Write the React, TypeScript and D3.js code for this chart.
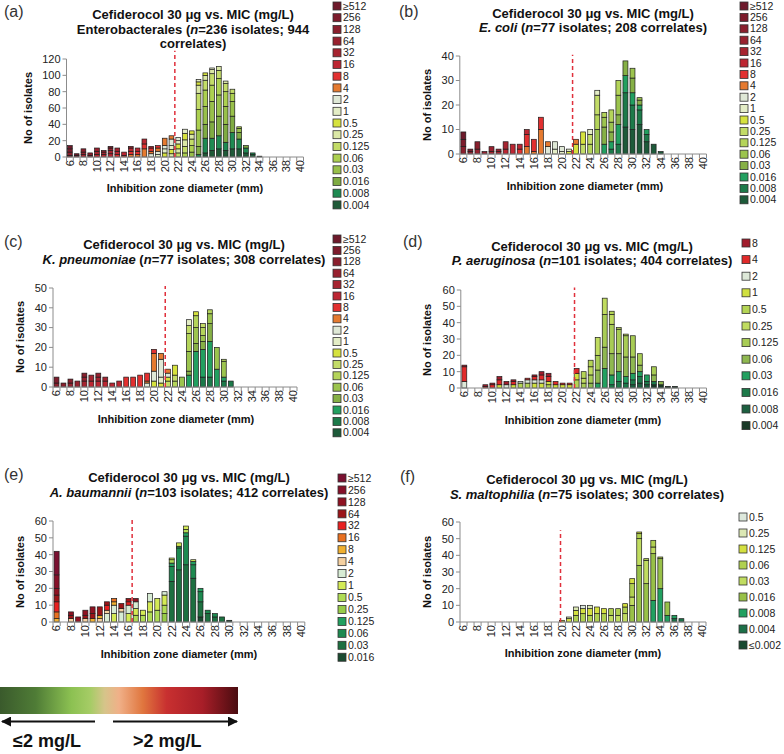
import React from "react";
import * as d3 from "d3";

type Seg = [string, number];
type Bar = [number, Seg[]];
type Run = [string, boolean];

const ZONES = [6, 7, 8, 9, 10, 11, 12, 13, 14, 15, 16, 17, 18, 19, 20, 21, 22, 23, 24, 25, 26, 27, 28, 29, 30, 31, 32, 33, 34, 35, 36, 37, 38, 39, 40];
const ZONE_TICKS = [6, 8, 10, 12, 14, 16, 18, 20, 22, 24, 26, 28, 30, 32, 34, 36, 38, 40];

const MIC_ABC = ["≥512", "256", "128", "64", "32", "16", "8", "4", "2", "1", "0.5", "0.25", "0.125", "0.06", "0.03", "0.016", "0.008", "0.004"];
const COL_A = ["#6e1a2b", "#7d1c2c", "#8a1f2d", "#98212f", "#a62430", "#bc2632", "#e23030", "#e57a30", "#dfe8d6", "#e4edc6", "#d6e23e", "#dbe8a6", "#c3dc68", "#acd050", "#98c04a", "#7fab42", "#1e8a52", "#1f5a38"];
const COL_BC = ["#6e1a2b", "#7d1c2c", "#8a1f2d", "#98212f", "#a62430", "#bc2632", "#e23030", "#e57a30", "#dfe8d6", "#e4edc6", "#d6e23e", "#c3dc68", "#b4d45a", "#9cc44e", "#86b046", "#22a060", "#1d7a4a", "#1d5a3a"];
const MIC_D = ["8", "4", "2", "1", "0.5", "0.25", "0.125", "0.06", "0.03", "0.016", "0.008", "0.004"];
const COL_D = ["#a01c2c", "#e02a2a", "#dde8d8", "#d0e040", "#b4d455", "#c0dc60", "#a8cc55", "#8fb850", "#22a060", "#1d7a4a", "#1d6040", "#1a3a28"];
const MIC_E = ["≥512", "256", "128", "64", "32", "16", "8", "4", "2", "1", "0.5", "0.25", "0.125", "0.06", "0.03", "0.016"];
const COL_E = ["#7a1030", "#861028", "#8f1222", "#9c1418", "#e82020", "#e87020", "#f0b030", "#f5d0a0", "#d8ecd4", "#d4ea55", "#b0dc55", "#98cc48", "#22a060", "#1d8a50", "#1d7040", "#1a4a30"];
const MIC_F = ["0.5", "0.25", "0.125", "0.06", "0.03", "0.016", "0.008", "0.004", "≤0.002"];
const COL_F = ["#dde8dc", "#dce8b4", "#d4e040", "#b0d050", "#c0dc60", "#98c048", "#22a060", "#1d7048", "#1a4a30"];

const BARS_A: Bar[] = [
  [6, [["64", 2], ["128", 4], ["256", 4], ["≥512", 4]]],
  [7, [["256", 2], ["≥512", 2]]],
  [8, [["32", 3], ["64", 3], ["128", 4]]],
  [9, [["64", 2], ["128", 3]]],
  [10, [["16", 3], ["32", 4], ["64", 4]]],
  [11, [["16", 3], ["32", 3], ["64", 2]]],
  [12, [["16", 4], ["32", 4], ["64", 3], ["128", 2]]],
  [13, [["8", 3], ["16", 4], ["32", 4]]],
  [14, [["8", 2], ["16", 4]]],
  [15, [["4", 3], ["8", 4], ["16", 4], ["32", 2]]],
  [16, [["4", 3], ["8", 4], ["16", 4]]],
  [17, [["4", 10], ["8", 6], ["16", 6]]],
  [18, [["2", 4], ["4", 3], ["8", 4], ["16", 2]]],
  [19, [["1", 3], ["2", 4], ["4", 4], ["8", 3]]],
  [20, [["0.5", 5], ["1", 5], ["2", 4], ["4", 9]]],
  [21, [["0.25", 4], ["0.5", 5], ["1", 5], ["2", 8], ["4", 4]]],
  [22, [["0.125", 5], ["0.25", 5], ["0.5", 6], ["1", 4], ["2", 4]]],
  [23, [["0.06", 5], ["0.125", 8], ["0.25", 8], ["0.5", 8], ["1", 5]]],
  [24, [["0.03", 6], ["0.06", 8], ["0.125", 8], ["0.25", 6], ["0.5", 4]]],
  [25, [["0.008", 3], ["0.016", 10], ["0.03", 20], ["0.06", 25], ["0.125", 20], ["0.25", 10], ["0.5", 4], ["1", 3]]],
  [26, [["0.004", 5], ["0.008", 18], ["0.016", 17], ["0.03", 22], ["0.06", 20], ["0.125", 12], ["0.25", 6], ["0.5", 3]]],
  [27, [["0.004", 8], ["0.008", 15], ["0.016", 20], ["0.03", 25], ["0.06", 20], ["0.125", 14], ["0.25", 5], ["1", 2]]],
  [28, [["0.004", 10], ["0.008", 16], ["0.016", 24], ["0.03", 26], ["0.06", 20], ["0.125", 10], ["0.25", 5]]],
  [29, [["0.004", 8], ["0.008", 10], ["0.016", 22], ["0.03", 22], ["0.06", 18], ["0.125", 10], ["0.25", 3]]],
  [30, [["0.004", 10], ["0.008", 20], ["0.016", 20], ["0.03", 18], ["0.06", 10], ["0.125", 5]]],
  [31, [["0.004", 10], ["0.008", 12], ["0.016", 8], ["0.03", 5], ["0.06", 2]]],
  [32, [["0.004", 5], ["0.008", 6], ["0.016", 3]]],
  [33, [["0.004", 3], ["0.008", 2]]],
  [34, [["0.004", 1]]],
];

const BARS_B: Bar[] = [
  [6, [["128", 3], ["256", 3], ["≥512", 3]]],
  [7, [["128", 1], ["256", 1]]],
  [8, [["64", 2], ["128", 3]]],
  [9, [["64", 1]]],
  [10, [["32", 1], ["64", 2]]],
  [11, [["32", 1], ["64", 1]]],
  [12, [["16", 2], ["32", 3]]],
  [13, [["16", 4]]],
  [14, [["8", 2], ["16", 2]]],
  [15, [["4", 3], ["8", 5], ["16", 2]]],
  [16, [["4", 1], ["8", 5]]],
  [17, [["4", 10], ["8", 5]]],
  [18, [["2", 3], ["4", 2]]],
  [19, [["1", 2], ["2", 3]]],
  [20, [["1", 1], ["2", 2]]],
  [21, [["0.5", 1], ["1", 1]]],
  [22, [["0.5", 4], ["4", 2]]],
  [23, [["0.25", 4], ["0.5", 5]]],
  [24, [["0.125", 4], ["0.25", 4], ["1", 2]]],
  [25, [["0.06", 10], ["0.125", 6], ["0.25", 8], ["1", 2]]],
  [26, [["0.016", 4], ["0.03", 7], ["0.06", 4], ["0.125", 2]]],
  [27, [["0.008", 2], ["0.016", 3], ["0.03", 4], ["0.06", 4], ["0.125", 5]]],
  [28, [["0.008", 4], ["0.016", 8], ["0.03", 4], ["0.06", 8], ["0.125", 6]]],
  [29, [["0.004", 11], ["0.008", 14], ["0.016", 7], ["0.03", 6]]],
  [30, [["0.004", 10], ["0.008", 10], ["0.016", 5], ["0.03", 6], ["0.06", 4]]],
  [31, [["0.004", 12], ["0.008", 6], ["0.016", 2], ["0.03", 2], ["0.06", 1]]],
  [32, [["0.004", 5], ["0.008", 3], ["0.016", 2]]],
  [33, [["0.004", 4]]],
  [34, [["0.004", 1]]],
];

const BARS_C: Bar[] = [
  [6, [["128", 2], ["256", 3]]],
  [7, [["128", 2]]],
  [8, [["64", 2], ["128", 2]]],
  [9, [["64", 3]]],
  [10, [["32", 3], ["64", 2], ["128", 2]]],
  [11, [["16", 3], ["32", 3]]],
  [12, [["16", 3], ["32", 2], ["64", 2]]],
  [13, [["16", 3], ["32", 2]]],
  [14, [["16", 2]]],
  [15, [["16", 3]]],
  [16, [["8", 5]]],
  [17, [["8", 5]]],
  [18, [["8", 6]]],
  [19, [["2", 2], ["4", 1], ["8", 4]]],
  [20, [["0.5", 3], ["2", 5], ["4", 9], ["8", 2]]],
  [21, [["0.5", 2], ["1", 3], ["2", 9], ["4", 3]]],
  [22, [["0.25", 3], ["0.5", 2], ["2", 2], ["4", 2]]],
  [23, [["0.125", 3], ["0.25", 3], ["0.5", 5]]],
  [24, [["0.06", 5]]],
  [25, [["0.016", 6], ["0.03", 2], ["0.06", 10], ["0.125", 9], ["0.25", 4], ["1", 3]]],
  [26, [["0.016", 18], ["0.03", 4], ["0.06", 8], ["0.125", 6], ["0.5", 2]]],
  [27, [["0.008", 5], ["0.016", 14], ["0.03", 4], ["0.06", 3], ["0.125", 4], ["0.25", 2]]],
  [28, [["0.008", 5], ["0.016", 18], ["0.03", 9], ["0.06", 5], ["0.125", 2]]],
  [29, [["0.016", 9], ["0.06", 11]]],
  [30, [["0.008", 3], ["0.016", 2], ["0.06", 8], ["0.125", 1]]],
  [31, [["0.008", 3]]],
];

const BARS_D: Bar[] = [
  [6, [["2", 4], ["4", 9], ["8", 1]]],
  [9, [["4", 1], ["8", 1]]],
  [10, [["4", 2], ["8", 1]]],
  [11, [["1", 2], ["4", 3], ["8", 2]]],
  [12, [["2", 2], ["8", 2]]],
  [13, [["1", 2], ["4", 2], ["8", 1]]],
  [14, [["0.5", 3], ["2", 1]]],
  [15, [["0.5", 3], ["2", 2], ["4", 1]]],
  [16, [["1", 3], ["2", 2], ["4", 2], ["8", 1]]],
  [17, [["1", 3], ["2", 2], ["4", 3], ["8", 2]]],
  [18, [["0.5", 2], ["1", 2], ["4", 3], ["8", 2]]],
  [19, [["1", 2], ["4", 2]]],
  [20, [["1", 2], ["4", 1]]],
  [21, [["1", 2], ["4", 1]]],
  [22, [["0.5", 5], ["1", 4], ["4", 3]]],
  [23, [["0.125", 3], ["0.25", 3], ["0.5", 4]]],
  [24, [["0.06", 3], ["0.125", 5], ["0.25", 5], ["0.5", 4]]],
  [25, [["0.03", 3], ["0.06", 8], ["0.125", 9], ["0.25", 11]]],
  [26, [["0.03", 12], ["0.06", 13], ["0.125", 20], ["0.25", 10]]],
  [27, [["0.016", 2], ["0.03", 6], ["0.06", 13], ["0.125", 18], ["0.25", 6], ["0.5", 2]]],
  [28, [["0.016", 4], ["0.03", 6], ["0.06", 11], ["0.125", 15], ["0.25", 1]]],
  [29, [["0.016", 3], ["0.03", 4], ["0.06", 12], ["0.125", 13], ["0.25", 1]]],
  [30, [["0.008", 2], ["0.016", 3], ["0.03", 4], ["0.06", 10], ["0.125", 13]]],
  [31, [["0.008", 3], ["0.016", 4], ["0.03", 3], ["0.06", 4], ["0.125", 7]]],
  [32, [["0.008", 2], ["0.016", 2], ["0.03", 4]]],
  [33, [["0.004", 2], ["0.016", 2], ["0.06", 4], ["0.125", 5]]],
  [34, [["0.004", 2], ["0.06", 2]]],
  [35, [["0.004", 1]]],
  [36, [["0.004", 1]]],
];

const BARS_E: Bar[] = [
  [6, [["8", 2], ["16", 4], ["32", 6], ["64", 4], ["128", 4], ["256", 8], ["≥512", 14]]],
  [8, [["4", 2], ["64", 2], ["128", 2]]],
  [9, [["128", 3]]],
  [10, [["4", 2], ["64", 2], ["128", 3]]],
  [11, [["8", 2], ["64", 3], ["128", 4]]],
  [12, [["4", 2], ["8", 2], ["64", 5]]],
  [13, [["2", 5], ["4", 2], ["32", 3], ["64", 2]]],
  [14, [["1", 5], ["2", 5], ["8", 2], ["16", 2]]],
  [15, [["2", 6], ["4", 2], ["64", 3]]],
  [16, [["1", 5], ["2", 5], ["32", 2], ["64", 2]]],
  [17, [["0.5", 4], ["1", 4], ["2", 4], ["128", 2]]],
  [18, [["0.5", 4], ["1", 3]]],
  [19, [["0.5", 6], ["1", 6], ["2", 5]]],
  [20, [["0.5", 7], ["1", 7]]],
  [21, [["0.25", 5], ["0.5", 5], ["1", 6], ["2", 2]]],
  [22, [["0.03", 24], ["0.06", 9], ["0.125", 2], ["0.5", 2], ["1", 1]]],
  [23, [["0.03", 31], ["0.06", 13], ["0.125", 1], ["1", 2]]],
  [24, [["0.03", 34], ["0.06", 17], ["0.125", 2], ["0.5", 2], ["1", 2]]],
  [25, [["0.03", 26], ["0.06", 8], ["0.125", 2], ["1", 1]]],
  [26, [["0.016", 3], ["0.03", 9], ["0.06", 6], ["0.125", 2]]],
  [27, [["0.03", 5], ["0.06", 2]]],
  [28, [["0.03", 3], ["0.06", 2]]],
  [29, [["0.03", 3]]],
  [30, [["0.016", 1]]],
];

const BARS_F: Bar[] = [
  [20, [["0.125", 1]]],
  [21, [["0.125", 2], ["0.25", 1]]],
  [22, [["0.06", 4], ["0.125", 3], ["0.25", 2]]],
  [23, [["0.06", 5], ["0.125", 3], ["0.5", 2]]],
  [24, [["0.06", 4], ["0.125", 4], ["0.25", 2]]],
  [25, [["0.06", 5], ["0.125", 4]]],
  [26, [["0.06", 5], ["0.125", 3]]],
  [27, [["0.03", 4], ["0.06", 4]]],
  [28, [["0.03", 4], ["0.06", 4]]],
  [29, [["0.03", 5], ["0.06", 4], ["0.125", 2]]],
  [30, [["0.016", 10], ["0.03", 5], ["0.06", 8], ["0.125", 3]]],
  [31, [["0.016", 34], ["0.03", 16], ["0.06", 3], ["0.125", 1]]],
  [32, [["0.016", 23], ["0.03", 14], ["0.06", 1]]],
  [33, [["0.008", 13], ["0.016", 28], ["0.03", 4], ["0.06", 4]]],
  [34, [["0.008", 20], ["0.016", 18], ["0.06", 1]]],
  [35, [["0.008", 4], ["0.016", 8]]],
  [36, [["0.004", 2], ["0.008", 2]]],
  [37, [["0.004", 2]]],
];

const TITLE_HEAD = "Cefiderocol 30 μg vs. MIC (mg/L)";
const TITLE_A: Run[][] = [[[TITLE_HEAD, false]], [["Enterobacterales (", false], ["n", true], ["=236 isolates; 944", false]], [["correlates)", false]]];
const TITLE_B: Run[][] = [[[TITLE_HEAD, false]], [["E. coli", true], [" (", false], ["n", true], ["=77 isolates; 208 correlates)", false]]];
const TITLE_C: Run[][] = [[[TITLE_HEAD, false]], [["K. pneumoniae", true], [" (", false], ["n", true], ["=77 isolates; 308 correlates)", false]]];
const TITLE_D: Run[][] = [[[TITLE_HEAD, false]], [["P. aeruginosa", true], [" (", false], ["n", true], ["=101 isolates; 404 correlates)", false]]];
const TITLE_E: Run[][] = [[[TITLE_HEAD, false]], [["A. baumannii", true], [" (", false], ["n", true], ["=103 isolates; 412 correlates)", false]]];
const TITLE_F: Run[][] = [[[TITLE_HEAD, false]], [["S. maltophilia", true], [" (", false], ["n", true], ["=75 isolates; 300 correlates)", false]]];

const X_TITLE = "Inhibition zone diameter (mm)";
const Y_TITLE = "No of isolates";

const FONT = "Liberation Sans, Arial, Helvetica, sans-serif";

const PANELS = [
  { tag: "(a)", tagX: 4, tagY: 17, title: TITLE_A, titleX: 193, titleY: [19, 33.5, 48], x0: 66.5, x1: 303.5, yBase: 157, yTop: 59, yMax: 120, yStep: 20, cut: 21.5, cutTop: 130, xtX: 185, xtY: 192, ytX: 28, ytY: 108, legX: 333, legY: 6, legStep: 11.7, mics: MIC_ABC, colors: COL_A, bars: BARS_A },
  { tag: "(b)", tagX: 399, tagY: 17, title: TITLE_B, titleX: 593, titleY: [17.5, 31.5], x0: 459.8, x1: 706.5, yBase: 154, yTop: 56, yMax: 40, yStep: 10, cut: 21.5, cutTop: 40.5, xtX: 585, xtY: 190, ytX: 427, ytY: 105, legX: 740, legY: 6, legStep: 11.4, mics: MIC_ABC, colors: COL_BC, bars: BARS_B },
  { tag: "(c)", tagX: 4, tagY: 247, title: TITLE_C, titleX: 184, titleY: [249, 263.5], x0: 53, x1: 297, yBase: 387, yTop: 288, yMax: 50, yStep: 10, cut: 21.6, cutTop: 51, xtX: 176, xtY: 423, ytX: 20, ytY: 337, legX: 333, legY: 239, legStep: 11.4, mics: MIC_ABC, colors: COL_BC, bars: BARS_C },
  { tag: "(d)", tagX: 403, tagY: 247, title: TITLE_D, titleX: 592, titleY: [251, 264.5], x0: 460.8, x1: 706.5, yBase: 388, yTop: 290, yMax: 60, yStep: 10, cut: 21.7, cutTop: 61.5, xtX: 583, xtY: 424, ytX: 427, ytY: 340, legX: 742, legY: 243, legStep: 16.6, mics: MIC_D, colors: COL_D, bars: BARS_D },
  { tag: "(e)", tagX: 4, tagY: 480, title: TITLE_E, titleX: 189, titleY: [482, 497], x0: 53, x1: 304.8, yBase: 622, yTop: 521, yMax: 60, yStep: 10, cut: 16.5, cutTop: 62, xtX: 179, xtY: 658, ytX: 20, ytY: 572, legX: 338, legY: 478, legStep: 11.95, mics: MIC_E, colors: COL_E, bars: BARS_E },
  { tag: "(f)", tagX: 400, tagY: 482, title: TITLE_F, titleX: 587, titleY: [484, 498.5], x0: 460, x1: 706, yBase: 622, yTop: 522, yMax: 60, yStep: 10, cut: 19.8, cutTop: 55, xtX: 583, xtY: 657, ytX: 427, ytY: 572, legX: 739, legY: 517, legStep: 16, mics: MIC_F, colors: COL_F, bars: BARS_F },
];

const GRAD_STOPS: [number, string][] = [
  [0, "#3a5a2c"], [0.15, "#4f7c36"], [0.3, "#8cc152"], [0.38, "#a6cc66"], [0.44, "#d6c48a"],
  [0.5, "#f0b088"], [0.6, "#e0763e"], [0.7, "#c83030"], [0.85, "#a81e28"], [1, "#4a0c10"],
];

function Panel({ p }: { p: any }) {
  const x = d3.scaleBand<number>().domain(ZONES).range([p.x0, p.x1]).paddingInner(0.3).paddingOuter(0.15);
  const y = d3.scaleLinear().domain([0, p.yMax]).range([p.yBase, p.yTop]);
  const step = x.step();
  const bw = x.bandwidth();
  const xc = d3.scaleLinear().domain([6, 40]).range([(x(6) as number) + bw / 2, (x(40) as number) + bw / 2]);
  const keys: string[] = [...p.mics].reverse();
  const rows = ZONES.map((z) => {
    const r: any = { zone: z };
    keys.forEach((k) => (r[k] = 0));
    const b = (p.bars as Bar[]).find((bb) => bb[0] === z);
    if (b) b[1].forEach(([k, v]) => (r[k] += v));
    return r;
  });
  const series = d3.stack<any>().keys(keys)(rows);
  const color = d3.scaleOrdinal<string, string>().domain(p.mics).range(p.colors);
  const yTicks = d3.range(0, p.yMax + 1, p.yStep);
  const bounds = d3.range(0, ZONES.length + 1);
  return (
    <g fontFamily={FONT}>
      <text x={p.tagX} y={p.tagY} fontSize={16} fill="#333">{p.tag}</text>
      {p.title.map((line: Run[], i: number) => (
        <text key={i} x={p.titleX} y={p.titleY[i]} fontSize={13} fontWeight="bold" textAnchor="middle" fill="#111">
          {line.map((r, j) => (
            <tspan key={j} fontStyle={r[1] ? "italic" : "normal"}>{r[0]}</tspan>
          ))}
        </text>
      ))}
      {series.map((s) => (
        <g key={s.key} fill={color(s.key)}>
          {s.map((d, i) =>
            d[1] - d[0] > 0 ? (
              <rect key={i} x={x(ZONES[i])} width={bw} y={y(d[1])} height={y(d[0]) - y(d[1])} stroke="#1c1c1c" strokeWidth={0.7} />
            ) : null
          )}
        </g>
      ))}
      <line x1={p.x0} x2={p.x0} y1={p.yBase} y2={y(p.yMax)} stroke="#8c8c8c" strokeWidth={1} />
      {yTicks.map((t) => (
        <g key={t}>
          <line x1={p.x0 - 4} x2={p.x0} y1={y(t)} y2={y(t)} stroke="#8c8c8c" />
          <text x={p.x0 - 6} y={y(t)} dy="0.35em" fontSize={11} textAnchor="end" fill="#222">{t}</text>
        </g>
      ))}
      <line x1={p.x0} x2={p.x1} y1={p.yBase} y2={p.yBase} stroke="#8c8c8c" strokeWidth={1} />
      {bounds.map((i) => (
        <line key={i} x1={p.x0 + i * step} x2={p.x0 + i * step} y1={p.yBase} y2={p.yBase + 4} stroke="#8c8c8c" />
      ))}
      {ZONE_TICKS.map((z) => (
        <text key={z} transform={`translate(${xc(z)},${p.yBase + 3}) rotate(-90)`} dy="0.35em" fontSize={11} textAnchor="end" fill="#222">{z}</text>
      ))}
      <line x1={xc(p.cut)} x2={xc(p.cut)} y1={p.yBase} y2={y(p.cutTop)} stroke="#e0303c" strokeWidth={1.5} strokeDasharray="4,3" />
      <text x={p.xtX} y={p.xtY} fontSize={11} fontWeight="bold" textAnchor="middle" fill="#111">{X_TITLE}</text>
      <text transform={`translate(${p.ytX},${p.ytY}) rotate(-90)`} dy="0.35em" fontSize={11} fontWeight="bold" textAnchor="middle" fill="#111">{Y_TITLE}</text>
      {(p.mics as string[]).map((m, i) => (
        <g key={m}>
          <rect x={p.legX} y={p.legY + i * p.legStep - 4} width={8} height={8} fill={color(m)} stroke="#333" strokeWidth={0.8} />
          <text x={p.legX + 10} y={p.legY + i * p.legStep} dy="0.35em" fontSize={10.5} fill="#222">{m}</text>
        </g>
      ))}
    </g>
  );
}

export default function App() {
  return (
    <svg width={784} height={754} style={{ position: "absolute", left: 0, top: 0, background: "#fff" }}>
      <defs>
        <linearGradient id="micgrad" x1="0" x2="1" y1="0" y2="0">
          {GRAD_STOPS.map(([o, c], i) => (
            <stop key={i} offset={o} stopColor={c} />
          ))}
        </linearGradient>
        <marker id="ah" viewBox="0 0 10 10" refX="9" refY="5" markerWidth="5" markerHeight="5" orient="auto-start-reverse">
          <path d="M0,0 L10,5 L0,10 z" fill="#111" />
        </marker>
      </defs>
      <rect width={784} height={754} fill="#fff" />
      {PANELS.map((p, i) => (
        <Panel key={i} p={p} />
      ))}
      <rect x={0} y={687} width={238} height={27} fill="url(#micgrad)" />
      <line x1={95} x2={2} y1={721.5} y2={721.5} stroke="#111" strokeWidth={2} markerEnd="url(#ah)" />
      <line x1={113} x2={237} y1={721.5} y2={721.5} stroke="#111" strokeWidth={2} markerEnd="url(#ah)" />
      <text x={13} y={747} fontFamily={FONT} fontSize={18} fontWeight="bold" fill="#111">≤2 mg/L</text>
      <text x={133} y={747} fontFamily={FONT} fontSize={18} fontWeight="bold" fill="#111">&gt;2 mg/L</text>
    </svg>
  );
}
